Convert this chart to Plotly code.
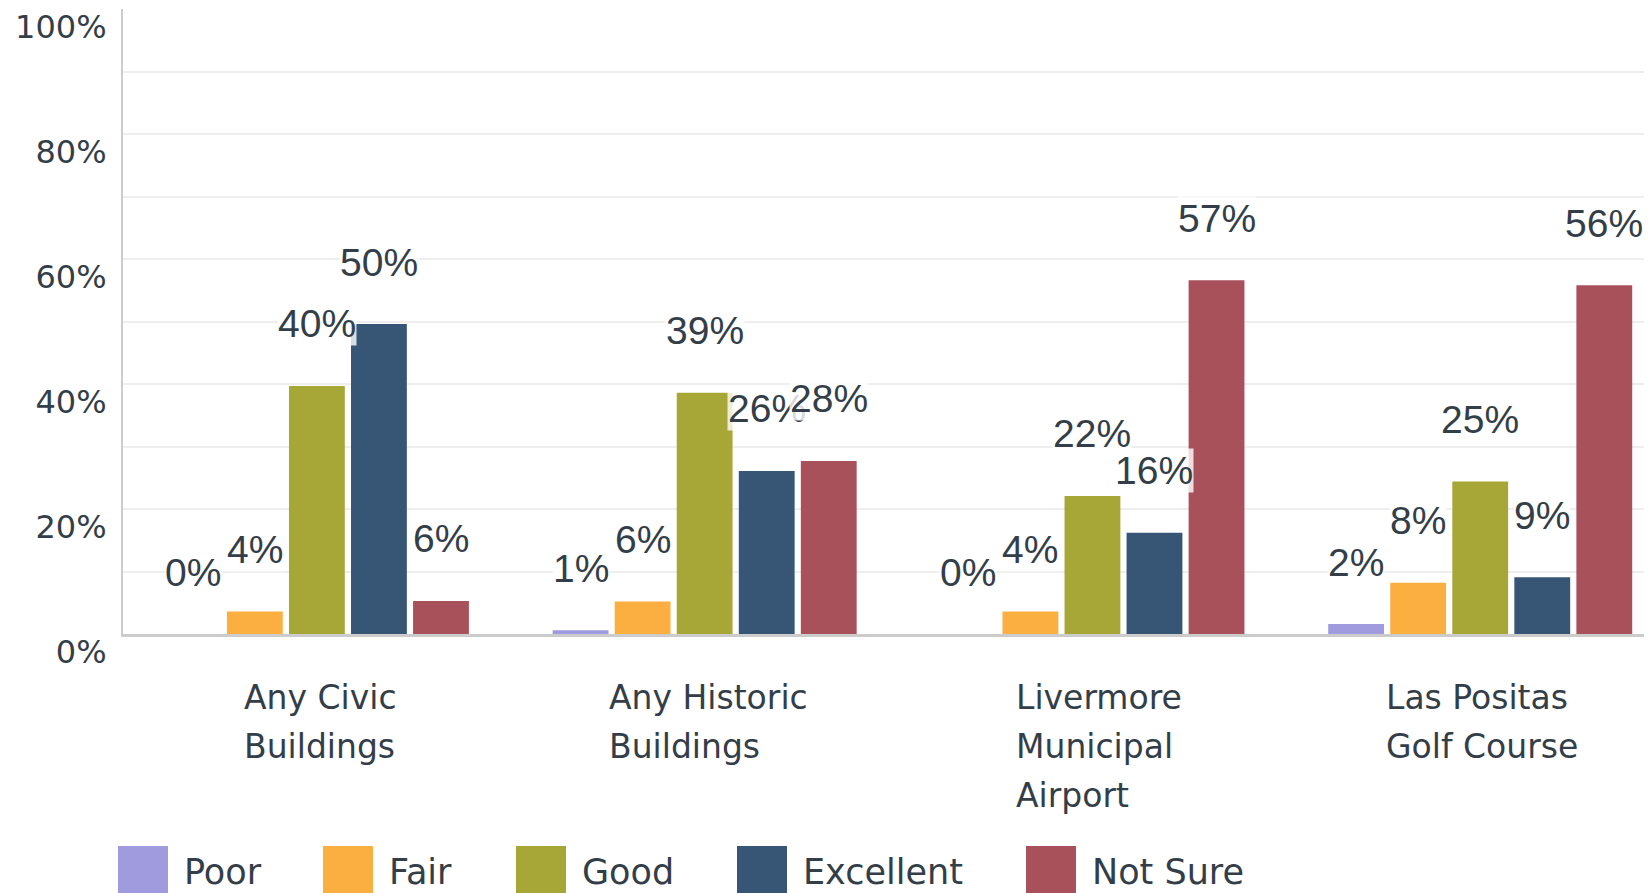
import plotly.graph_objects as go

# ---------------- data ----------------
categories = ["Any Civic<br>Buildings", "Any Historic<br>Buildings",
              "Livermore<br>Municipal<br>Airport", "Las Positas<br>Golf Course"]
series_names = ["Poor", "Fair", "Good", "Excellent", "Not Sure"]

poor = [0.0, 0.6, 0.0, 1.6]
fair = [3.6, 5.2, 3.6, 8.2]
good = [39.7, 38.6, 22.1, 24.4]
excellent = [49.6, 26.1, 16.2, 9.1]
not_sure = [5.3, 27.7, 56.6, 55.8]

poor_labels = [0, 1, 0, 2]
fair_labels = [4, 6, 4, 8]
good_labels = [40, 39, 22, 25]
excellent_labels = [50, 26, 16, 9]
not_sure_labels = [6, 28, 57, 56]

y_tick_vals = [0, 20, 40, 60, 80, 100]
y_tick_text = ["0%", "20%", "40%", "60%", "80%", "100%"]
y_grid_vals = [10, 20, 30, 40, 50, 60, 70, 80, 90]

# ---------------- style ----------------
colors = ["#A09ADE", "#FBAF41", "#A6A737", "#375675", "#A8515B"]
text_color = "#333E48"
PAGE_OFF = 8                      # browser body margin
W, H = 1652 - PAGE_OFF, 893 - PAGE_OFF
ML, MR, MT, MB = 115, 0, 1, 259
plot_w = W - ML - MR
plot_h = H - MT - MB
BARGAP = 0.2
X_RANGE = [-0.5, 3.443]
label_box_w = [156, 210, 176, 206]  # width of the left-aligned category text blocks
label_xshift = [5, 9, 12, 9]
legend_left_px = [110, 315, 508, 729, 1018]
line_centers_px = [689, 738.5, 788]
legend_text_y = 864
legend_sq_top = 838
legend_text_gap = 64


def px_to_paper_x(px):
    return (px - ML) / plot_w


def px_to_paper_y(py):
    return (H - MB - py) / plot_h


values = [poor, fair, good, excellent, not_sure]
labels = [poor_labels, fair_labels, good_labels, excellent_labels, not_sure_labels]
xs = list(range(len(categories)))

fig = go.Figure()
for name, vals, col in zip(series_names, values, colors):
    fig.add_trace(go.Bar(x=xs, y=vals, name=name, marker=dict(color=col, line=dict(width=0)),
                         showlegend=False, hoverinfo="skip"))

annotations = []
slot = (1 - BARGAP) / len(series_names)
# value labels above bars
for i, (vals, labs) in enumerate(zip(values, labels)):
    for c, (v, lab) in enumerate(zip(vals, labs)):
        annotations.append(dict(
            x=c + (i - (len(series_names) - 1) / 2) * slot, y=v, xref="x", yref="y",
            text=f"{lab}%", showarrow=False, yanchor="middle", yshift=62,
            font=dict(family="Liberation Sans", size=39, color=text_color),
            bgcolor="rgba(255,255,255,0.8)", borderpad=0))

# category labels (left-aligned blocks centred on each group)
for c, cat in enumerate(categories):
    for k, line in enumerate(cat.split("<br>")):
        annotations.append(dict(
            x=c, xref="x", xshift=label_xshift[c], y=px_to_paper_y(line_centers_px[k]),
            yref="paper", text=line, showarrow=False, xanchor="center", yanchor="middle",
            align="left", width=label_box_w[c],
            font=dict(family="DejaVu Sans", size=33, color=text_color)))

# custom legend
shapes = []
for name, col, lx in zip(series_names, colors, legend_left_px):
    shapes.append(dict(type="rect", xref="paper", yref="paper",
                       x0=px_to_paper_x(lx), x1=px_to_paper_x(lx + 50),
                       y0=px_to_paper_y(legend_sq_top), y1=px_to_paper_y(H + 20),
                       fillcolor=col, line=dict(width=0), layer="above"))
    annotations.append(dict(
        x=px_to_paper_x(lx + legend_text_gap), xref="paper", y=px_to_paper_y(legend_text_y),
        yref="paper", text=name, showarrow=False, xanchor="left", yanchor="middle",
        font=dict(family="DejaVu Sans", size=35, color=text_color)))

fig.update_layout(
    width=W, height=H,
    margin=dict(l=ML, r=MR, t=MT, b=MB, pad=0, autoexpand=False),
    paper_bgcolor="white", plot_bgcolor="white",
    barmode="group", bargap=BARGAP, bargroupgap=0.1,
    annotations=annotations, shapes=shapes,
    showlegend=False,
    xaxis=dict(range=X_RANGE, showticklabels=False, showgrid=False, zeroline=False,
               showline=True, linecolor="#CCCCCC", linewidth=3, ticks="", automargin=False),
    yaxis=dict(range=[0, 100], tickvals=y_tick_vals, ticktext=y_tick_text,
               showgrid=False, zeroline=False, automargin=False,
               showline=True, linecolor="#CCCCCC", linewidth=2, ticks="",
               tickfont=dict(family="DejaVu Sans", size=32, color=text_color),
               ticklabelshift=18, ticklabelstandoff=8,
               minor=dict(tickvals=y_grid_vals, showgrid=True, gridcolor="#EEEEEE",
                          gridwidth=2, ticks="")),
)

fig.write_html("out.html")
